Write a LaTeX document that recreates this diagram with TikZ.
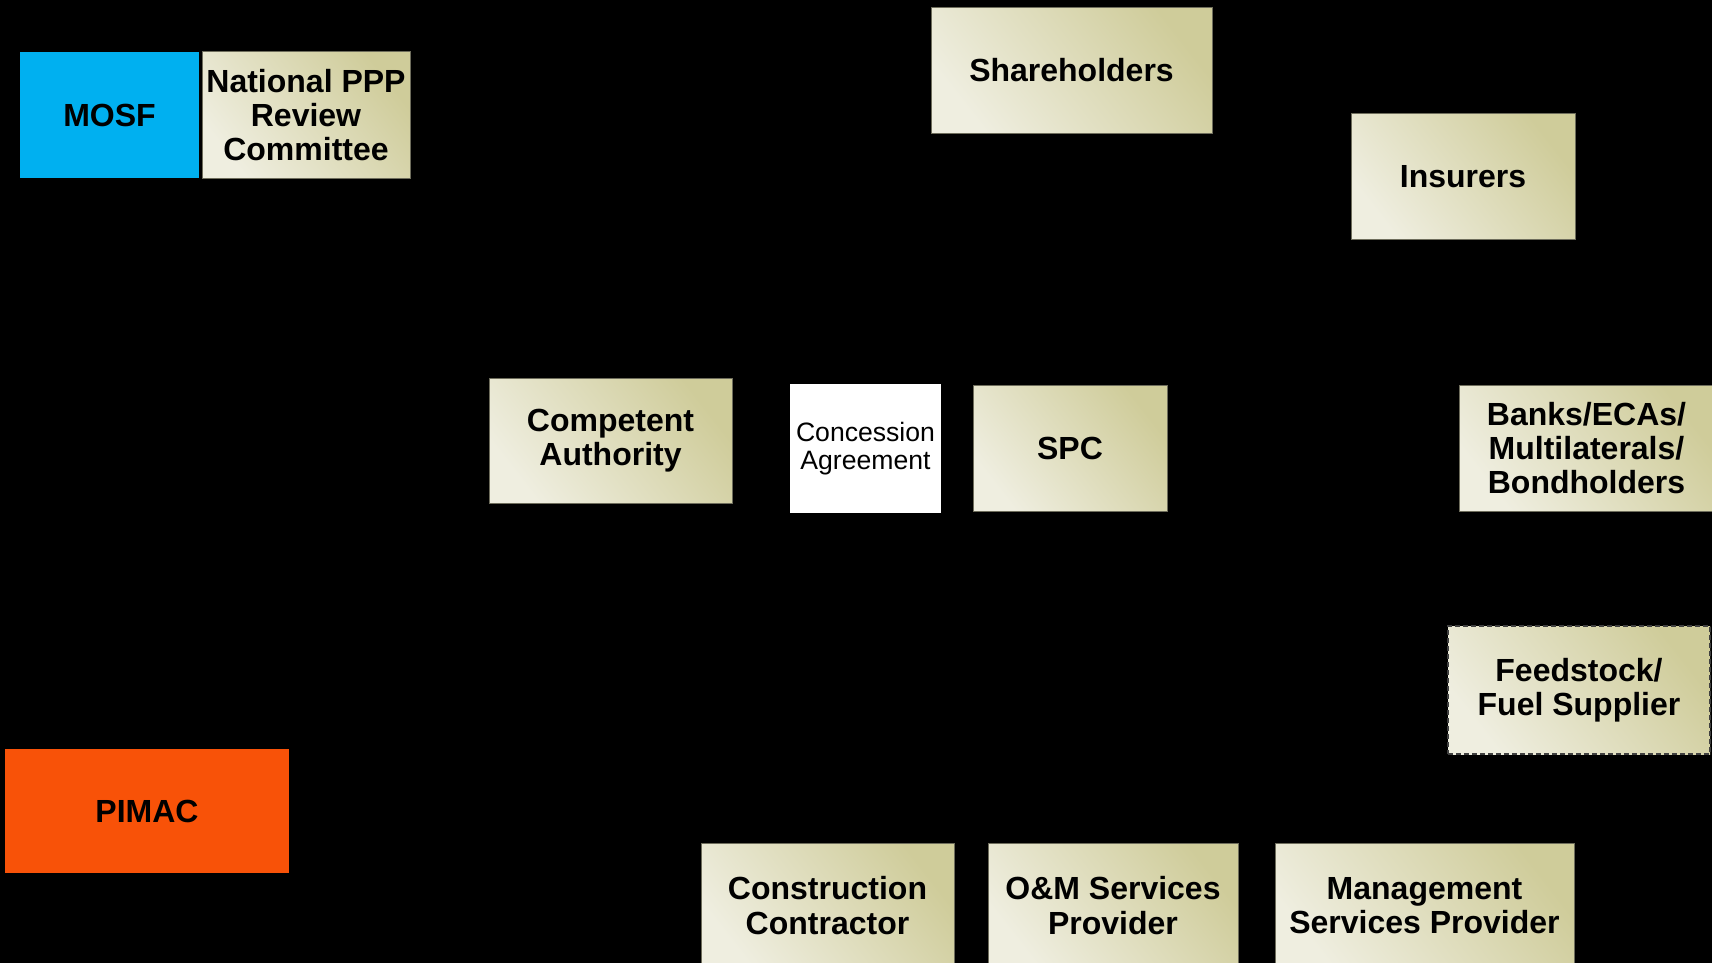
\documentclass[tikz,border=0pt]{standalone}
\usepackage{fontspec}
\setmainfont{Liberation Sans}
\usepackage{tikz}
\usetikzlibrary{positioning}
\definecolor{boxlight}{HTML}{EFEEE0}
\definecolor{boxdark}{HTML}{CFCC9A}
\definecolor{boxline}{HTML}{6E6D5C}
\definecolor{mosfblue}{HTML}{00B0F0}
\definecolor{pimacred}{HTML}{F85208}

\begin{document}
\begin{tikzpicture}[x=0.5pt,y=-0.5pt,
    base/.style={inner sep=0pt,align=center,font=\fontsize{16}{17.2}\selectfont\bfseries},
    party/.style={base,draw=boxline,line width=0.5pt,bottom color=boxlight,top color=boxdark,shading angle=-52},
    note/.style={fill=white,inner sep=0pt,align=center,font=\fontsize{13.3}{14.2}\selectfont}]
    % black page
    \clip (0,0) rectangle (1712,963);
    \fill[black] (0,0) rectangle (1712,963);

    % government side
    \node[base,fill=mosfblue,minimum width=89.5pt,minimum height=63pt] (mosf) at (109.5,115) {MOSF};
    \node[party,minimum width=104pt,minimum height=63pt] (review) at (306,115) {National PPP\\Review\\Committee};
    \node[base,fill=pimacred,minimum width=142pt,minimum height=62pt] (pimac) at (147,811) {PIMAC};
    \node[party,minimum width=121.5pt,minimum height=62.5pt] (authority) at (610.5,440.5) {Competent\\Authority};
    \node[note,minimum width=75.5pt,minimum height=64.5pt] (concession) at (865.5,448.5) {Concession\\Agreement};

    % project company and finance
    \node[party,minimum width=97pt,minimum height=63pt] (spc) at (1070,448) {SPC};
    \node[party,minimum width=140.5pt,minimum height=62.5pt] (shareholders) at (1071.5,70.5) {Shareholders};
    \node[party,minimum width=112pt,minimum height=62.5pt] (insurers) at (1463,176.5) {Insurers};
    \node[party,minimum width=127.5pt,minimum height=63pt] (banks) at (1586.5,448) {Banks/ECAs/\\Multilaterals/\\Bondholders};
    \node[party,draw=black!75,line width=0.75pt,dash pattern=on 2.5pt off 1.5pt,minimum width=131pt,minimum height=64pt] (fuel) at (1579,690) {Feedstock/\\Fuel Supplier};

    % contractors
    \node[party,minimum width=126.5pt,minimum height=62.5pt] (construction) at (827.5,905.5) {Construction\\Contractor};
    \node[party,minimum width=125pt,minimum height=62.5pt] (om) at (1113,905.5) {O\&M Services\\Provider};
    \node[party,minimum width=149.5pt,minimum height=62.5pt] (management) at (1424.5,905.5) {Management\\Services Provider};
\end{tikzpicture}
\end{document}
